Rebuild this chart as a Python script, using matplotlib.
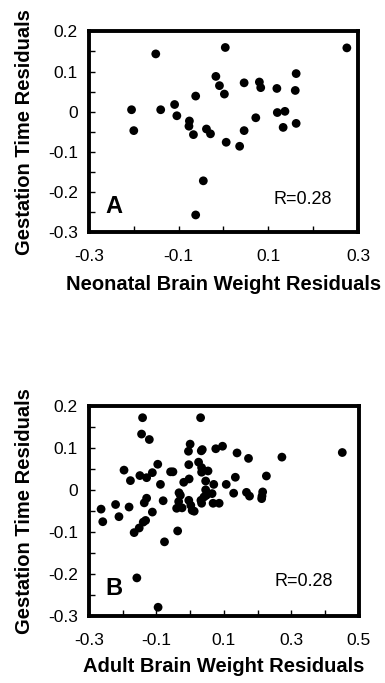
import numpy as np
from matplotlib import pyplot as plt

plt.rcParams['font.family'] = ['Liberation Sans', 'DejaVu Sans']

# Panel A - neonatal brain weight residuals vs gestation time residuals
neo_x = [-0.205, -0.200, -0.151, -0.140, -0.109, -0.104, -0.076, -0.077, -0.067, -0.062,
         -0.038, -0.029, -0.017, -0.009, 0.002, 0.004, 0.006, 0.036, 0.046, 0.046,
         0.072, 0.080, 0.083, 0.119, 0.120, 0.137, 0.133, 0.162, 0.160, 0.162,
         -0.045, -0.062, 0.275]
neo_y = [0.005, -0.047, 0.144, 0.005, 0.018, -0.010, -0.023, -0.036, -0.057, 0.039,
         -0.043, -0.055, 0.088, 0.065, 0.044, 0.160, -0.076, -0.086, 0.072, -0.047,
         -0.015, 0.074, 0.060, 0.058, -0.002, 0.001, -0.039, 0.095, 0.053, -0.029,
         -0.172, -0.257, 0.159]

# Panel B - adult brain weight residuals vs gestation time residuals
adult_x = [-0.141, 0.031, -0.144, -0.121, 0.000, -0.005, 0.036, 0.033, 0.076, 0.096,
           0.139, 0.173, 0.272, 0.451, -0.196, -0.177, -0.149, -0.129, -0.112, -0.096,
           -0.088, -0.058, -0.051, -0.004, 0.025, 0.034, 0.034, 0.053, -0.003, -0.019,
           0.046, 0.070, 0.107, 0.134, 0.226, 0.046, -0.033, -0.029, -0.004, 0.002,
           0.012, 0.006, -0.040, -0.024, -0.034, 0.034, 0.032, 0.041, 0.048, 0.065,
           0.068, 0.086, 0.129, 0.167, 0.176, 0.215, 0.213, 0.212, -0.136, -0.129,
           -0.080, -0.112, -0.181, -0.221, -0.264, -0.259, -0.211, -0.166, -0.151, -0.139,
           -0.132, -0.037, -0.076, -0.158, -0.095]
adult_y = [0.173, 0.173, 0.134, 0.121, 0.110, 0.093, 0.097, 0.094, 0.099, 0.105,
           0.089, 0.076, 0.079, 0.090, 0.048, 0.023, 0.035, 0.030, 0.042, 0.062,
           0.014, 0.044, 0.044, 0.061, 0.067, 0.054, 0.043, 0.046, 0.027, 0.019,
           0.022, 0.014, 0.014, 0.031, 0.034, 0.001, -0.006, -0.012, -0.024, -0.036,
           -0.050, -0.048, -0.043, -0.042, -0.027, -0.031, -0.024, -0.016, -0.012, -0.008,
           -0.031, -0.031, -0.007, -0.005, -0.014, -0.004, -0.014, -0.020, -0.030, -0.019,
           -0.025, -0.052, -0.040, -0.034, -0.045, -0.075, -0.063, -0.101, -0.090, -0.076,
           -0.072, -0.097, -0.123, -0.209, -0.279]

y_ticks = [-0.3, -0.2, -0.1, 0, 0.1, 0.2]
y_labels = ["-0.3", "-0.2", "-0.1", "0", "0.1", "0.2"]
a_xticks = [-0.3, -0.1, 0.1, 0.3]
a_xlabels = ["-0.3", "-0.1", "0.1", "0.3"]
b_xticks = [-0.3, -0.1, 0.1, 0.3, 0.5]
b_xlabels = ["-0.3", "-0.1", "0.1", "0.3", "0.5"]

fig = plt.figure(figsize=(3.85, 6.83), dpi=100)


def panel(rect, x, y, xlim, xticks, xlabels, xminor, xlabel, letter, xlab_y):
    ax = fig.add_axes(rect)
    ax.scatter(x, y, s=40, color='black', edgecolors='none', zorder=3)
    ax.set_xlim(xlim)
    ax.set_ylim(-0.3, 0.2)
    ax.set_xticks(xticks)
    ax.set_xticklabels(xlabels)
    ax.set_xticks(xminor, minor=True)
    ax.set_yticks(y_ticks)
    ax.set_yticklabels(y_labels)
    ax.set_yticks(np.arange(-0.25, 0.2, 0.1), minor=True)
    ax.tick_params(which='both', direction='in', length=4, width=1,
                   labelsize=12.5, top=False, right=False)
    ax.tick_params(axis='x', pad=12)
    ax.tick_params(axis='y', pad=8)
    for s in ax.spines.values():
        s.set_linewidth(2.8)
    ax.set_xlabel(xlabel, fontsize=14.5, fontweight='bold')
    ax.xaxis.set_label_coords(0.5, xlab_y)
    ax.set_ylabel("Gestation Time Residuals", fontsize=14.5, fontweight='bold')
    ax.yaxis.set_label_coords(-0.205, 0.5)
    ax.text(0.06, 0.13, letter, transform=ax.transAxes, fontsize=17,
            fontweight='bold', va='center', ha='left')
    ax.text(0.905, 0.165, "R=0.28", transform=ax.transAxes, fontsize=13,
            va='center', ha='right')
    return ax


#Panel A
panel([0.231, 0.660, 0.699, 0.294], neo_x, neo_y, (-0.3, 0.3),
      a_xticks, a_xlabels, [-0.2, 0, 0.2], "Neonatal Brain Weight Residuals", "A", -0.215)

#Panel B
panel([0.231, 0.098, 0.701, 0.307], adult_x, adult_y, (-0.3, 0.5),
      b_xticks, b_xlabels, [-0.2, 0, 0.2, 0.4], "Adult Brain Weight Residuals", "B", -0.195)

plt.savefig("out.png", dpi=100)
